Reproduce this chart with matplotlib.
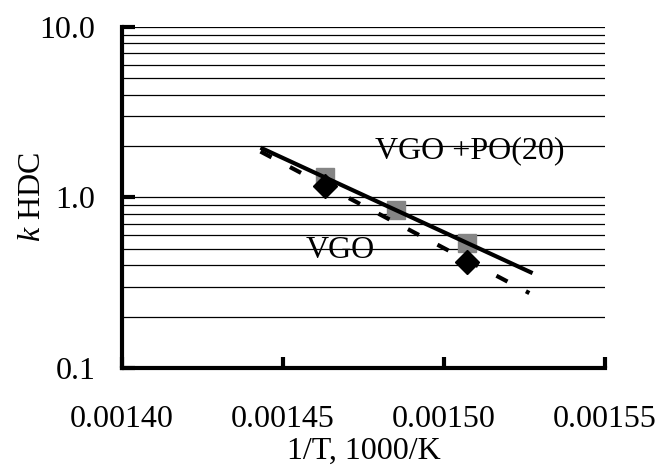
import matplotlib
matplotlib.use("Agg")
import matplotlib.pyplot as plt
from matplotlib.ticker import FixedLocator, FixedFormatter, LogLocator, NullFormatter

plt.rcParams['font.family'] = ['Liberation Serif', 'DejaVu Serif']
plt.rcParams['mathtext.fontset'] = 'custom'
plt.rcParams['mathtext.it'] = 'Liberation Serif:italic'
plt.rcParams['mathtext.rm'] = 'Liberation Serif'

# === Data ===
# VGO + PO(20): grey squares, solid fit
po_x = [0.001463, 0.001485, 0.001507]
po_k = [1.31, 0.84, 0.54]
po_fit_x = [0.001443, 0.0015275]
po_fit_k = [1.96, 0.36]

# VGO: black diamonds, dashed fit
vgo_x = [0.001463, 0.001507]
vgo_k = [1.16, 0.42]
vgo_fit_x = [0.001443, 0.0015265]
vgo_fit_k = [1.86, 0.275]

x_ticks = [0.00140, 0.00145, 0.00150, 0.00155]
x_labels = ["0.00140", "0.00145", "0.00150", "0.00155"]
y_ticks = [0.1, 1.0, 10.0]
y_labels = ["0.1", "1.0", "10.0"]

fig = plt.figure(figsize=(6.59, 4.73), dpi=100)
ax = fig.add_axes([0.1851, 0.222, 0.733, 0.721])

ax.set_yscale('log')
ax.set_xlim(0.00140, 0.00155)
ax.set_ylim(0.1, 10.0)

# horizontal grid at every log step
ax.yaxis.set_minor_locator(LogLocator(base=10, subs=range(2, 10)))
ax.yaxis.set_minor_formatter(NullFormatter())
ax.grid(True, which='both', axis='y', color='black', linewidth=0.9)
ax.grid(False, axis='x')
ax.set_axisbelow(True)

ax.plot(po_x, po_k, linestyle='none', marker='s', markersize=13,
        markerfacecolor='#858585', markeredgecolor='#858585')
ax.plot(vgo_x, vgo_k, linestyle='none', marker='D', markersize=12,
        markerfacecolor='black', markeredgecolor='black')
ax.plot(po_fit_x, po_fit_k, color='black', linewidth=3, solid_capstyle='butt')
ax.plot(vgo_fit_x, vgo_fit_k, color='black', linewidth=3, linestyle=(0, (3, 5)))

ax.text(0.001508, 1.88, "VGO +PO(20)", fontsize=23, ha='center', va='center')
ax.text(0.0014677, 0.49, "VGO", fontsize=23, ha='center', va='center')

ax.xaxis.set_major_locator(FixedLocator(x_ticks))
ax.xaxis.set_major_formatter(FixedFormatter(x_labels))
ax.yaxis.set_major_locator(FixedLocator(y_ticks))
ax.yaxis.set_major_formatter(FixedFormatter(y_labels))

ax.tick_params(axis='x', which='major', direction='in', length=8, width=3,
               labelsize=23, pad=27)
ax.tick_params(axis='y', which='major', direction='in', length=9, width=3,
               labelsize=23, pad=19)
ax.tick_params(axis='y', which='minor', length=0)

for side in ['top', 'right']:
    ax.spines[side].set_visible(False)
for side in ['left', 'bottom']:
    ax.spines[side].set_linewidth(3)

ax.set_xlabel("1/T, 1000/K", fontsize=23, labelpad=2)
ax.set_ylabel(r"$k$ HDC", fontsize=23)
ax.yaxis.set_label_coords(-0.155, 0.5)

fig.savefig("out.png", dpi=100)
